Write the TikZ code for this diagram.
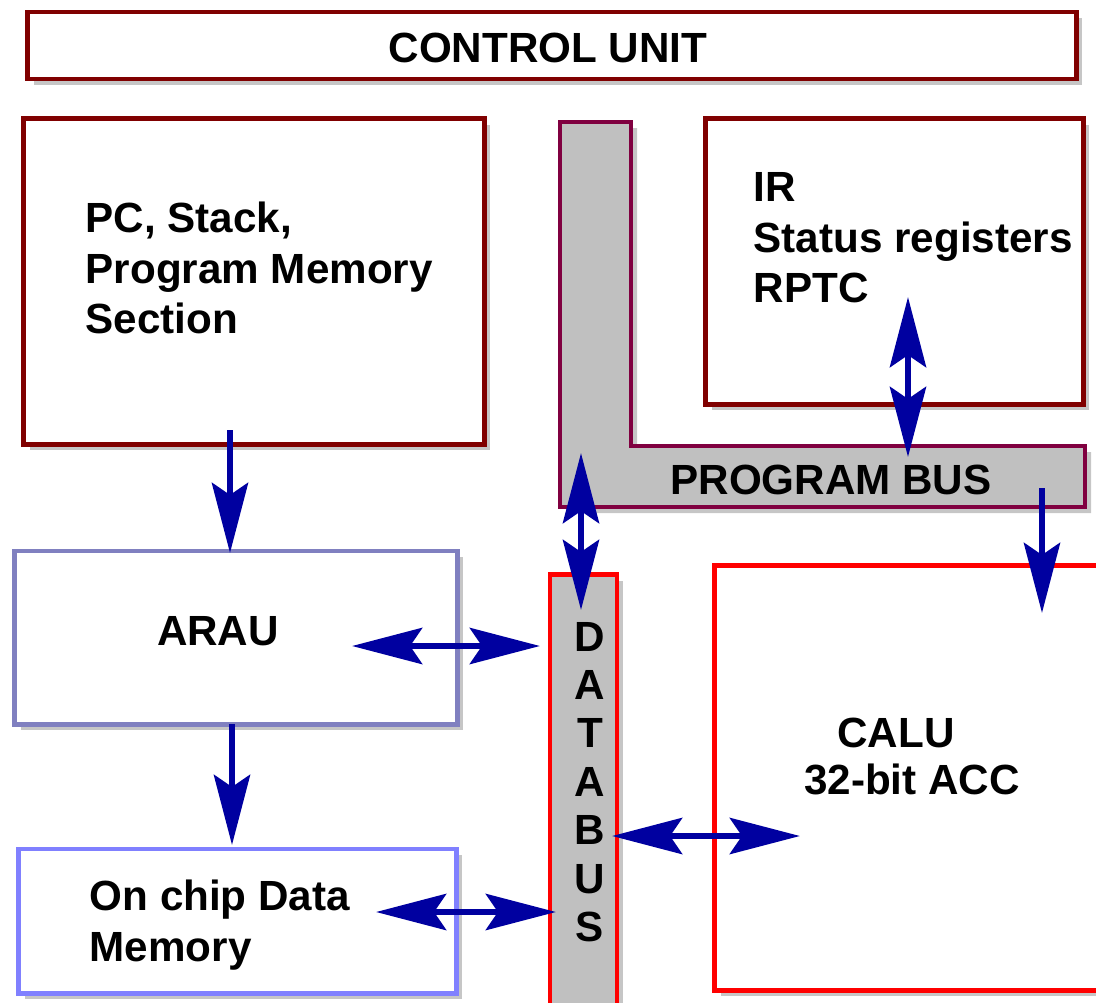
\documentclass[tikz,border=0pt]{standalone}
\usepackage{fontspec}
\setmainfont{Liberation Sans}
\usetikzlibrary{arrows.meta,shadows,positioning}
\definecolor{cured}{RGB}{128,0,0}
\definecolor{busedge}{RGB}{128,0,64}
\definecolor{busgray}{RGB}{192,192,192}
\definecolor{arauedge}{RGB}{128,128,192}
\definecolor{memedge}{RGB}{128,128,255}
\definecolor{arrblue}{RGB}{0,0,160}

\begin{document}
\begin{tikzpicture}[x=0.01cm, y=-0.01cm,
  font=\fontsize{12}{14.4}\selectfont\bfseries,
  shd/.style={drop shadow={shadow xshift=0.06cm, shadow yshift=-0.06cm, opacity=0.45}},
  box/.style={rectangle, draw=#1, line width=1.4pt, fill=white, inner sep=0pt, shd},
  txt/.style={inner sep=0pt, align=left, anchor=west},
  arr/.style={color=arrblue, line width=1.9pt, -{Stealth[length=0.7cm, width=0.36cm, inset=0.12cm]}},
  dblarr/.style={color=arrblue, line width=1.9pt, {Stealth[length=0.7cm, width=0.36cm, inset=0.12cm]}-{Stealth[length=0.7cm, width=0.36cm, inset=0.12cm]}}]
   \useasboundingbox (0,0) rectangle (1096,1002);

   % boxes
   \node[box=cured, minimum width=10.48cm, minimum height=0.67cm] (cu) at (552,45.5) {};
   \node[box=cured, minimum width=4.60cm, minimum height=3.25cm] (pcs) at (254,281.5) {};
   \node[box=cured, minimum width=3.77cm, minimum height=2.85cm] (ir) at (894.5,261.5) {};
   \node[box=arauedge, minimum width=4.42cm, minimum height=1.73cm] (arau) at (236,637.5) {};
   \node[box=memedge, minimum width=4.37cm, minimum height=1.44cm] (dmem) at (237.5,921) {};
   \node[box=red, minimum width=3.95cm, minimum height=4.24cm] (calu) at (912.5,778) {};
   \node[box=red, fill=busgray, minimum width=0.67cm, minimum height=4.35cm] (dbus) at (583.5,792.5) {};

   % program bus
   \filldraw[fill=busgray, draw=busedge, line width=1.4pt, shd]
     (560,122) -- (631,122) -- (631,446) -- (1085,446) -- (1085,507) -- (560,507) -- cycle;

   % labels
   \node[inner sep=0pt] (cut) at (548,48) {CONTROL UNIT};
   \node[txt] (pcst) at (85,268) {PC, Stack,\\Program Memory\\Section};
   \node[txt] (irt) at (753,238) {IR\\Status registers\\RPTC};
   \node[inner sep=0pt] (araut) at (218,631) {ARAU};
   \node[txt] (dmemt) at (89,925) {On chip Data\\Memory};
   \node[inner sep=0pt] (calut) at (896,733) {CALU};
   \node[inner sep=0pt] (acct) at (912,779) {32-bit ACC};
   \node[inner sep=0pt] (pbust) at (831,480) {PROGRAM BUS};
   \node[inner sep=0pt, align=center, font=\fontsize{12}{13.75}\selectfont\bfseries] (dbust) at (590,782)
     {D\\A\\T\\A\\B\\U\\S};

   % arrow ends
   \coordinate (p0) at (230,430);
   \coordinate (p1) at (230,553);
   \coordinate (p2) at (232,724);
   \coordinate (p3) at (232,845);
   \coordinate (a0) at (352,646);
   \coordinate (a1) at (540,646);
   \coordinate (m0) at (376,912);
   \coordinate (m1) at (556,912);
   \coordinate (c0) at (612,836);
   \coordinate (c1) at (800,836);
   \coordinate (b0) at (581,453);
   \coordinate (b1) at (581,610);
   \coordinate (i0) at (908,297);
   \coordinate (i1) at (908,457);
   \coordinate (k0) at (1042,488);
   \coordinate (k1) at (1042,613);

  \path[arr]
    (p0) edge (p1)
    (p2) edge (p3)
    (k0) edge (k1);
  \path[dblarr]
    (a0) edge (a1)
    (m0) edge (m1)
    (c0) edge (c1)
    (b0) edge (b1)
    (i0) edge (i1);
\end{tikzpicture}
\end{document}
